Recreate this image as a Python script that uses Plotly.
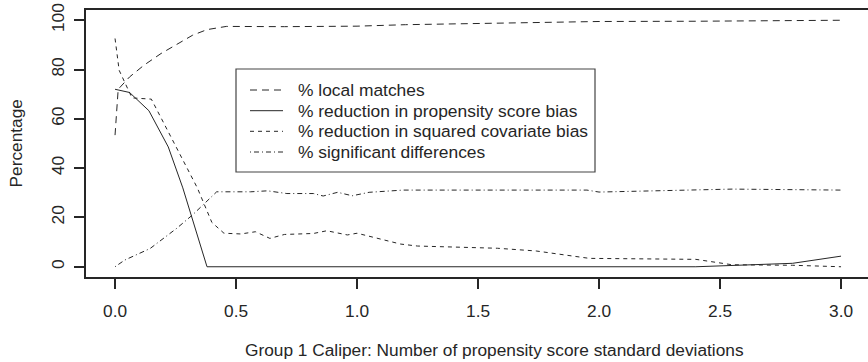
import plotly.graph_objects as go

# Caliper widths (in propensity score SDs) and the percentages at each width
caliper_local = [0, 0.013, 0.06, 0.12, 0.19, 0.26, 0.32, 0.38, 0.46, 0.7, 1.0, 1.2, 1.6, 2.0, 2.4, 3.0]
pct_local = [53.4, 72.0, 77.0, 81.8, 86.5, 90.5, 93.9, 96.2, 97.5, 97.4, 97.6, 98.2, 98.8, 99.5, 99.6, 100.0]

caliper_ps = [0, 0.06, 0.14, 0.22, 0.28, 0.38, 2.4, 2.8, 3.0]
pct_ps = [72.0, 70.7, 63.3, 48.6, 32.0, 0.0, 0.0, 1.4, 4.3]

caliper_cov = [0, 0.017, 0.07, 0.15, 0.34, 0.40, 0.45, 0.52, 0.58, 0.64, 0.70, 0.82,
               0.875, 0.96, 1.0, 1.18, 1.25, 1.58, 1.74, 1.96, 2.4, 2.55, 2.8, 3.0]
pct_cov = [92.6, 79.7, 68.5, 68.0, 32.0, 18.0, 13.6, 13.3, 14.2, 11.5, 13.1, 13.5,
           14.6, 12.9, 13.6, 9.2, 8.4, 7.5, 6.4, 3.4, 3.0, 0.8, 0.6, 0.0]

caliper_sig = [0, 0.04, 0.145, 0.255, 0.32, 0.42, 0.56, 0.63, 0.71, 0.82, 0.86, 0.92,
               0.98, 1.05, 1.19, 1.95, 2.0, 2.46, 2.55, 3.0]
pct_sig = [0, 2.7, 7.4, 15.6, 21.0, 30.4, 30.4, 30.8, 29.7, 29.7, 28.7, 30.2,
           28.8, 30.2, 31.1, 31.1, 30.3, 31.1, 31.5, 31.1]

series_names = [
    "% local matches",
    "% reduction in propensity score bias",
    "% reduction in squared covariate bias",
    "% significant differences",
]
x_ticks = [0.0, 0.5, 1.0, 1.5, 2.0, 2.5, 3.0]
x_ticklabels = ["0.0", "0.5", "1.0", "1.5", "2.0", "2.5", "3.0"]
y_ticks = [0, 20, 40, 60, 80, 100]

W, H = 868, 362
ML, MR, MT, MB = 86, 0, 10, 85
PW, PH = W - ML - MR, H - MT - MB
FONT = "Liberation Sans, Arial, Helvetica, sans-serif"
INK = "#262626"
dashes = ["7px,5px", "solid", "4px,4px", "1px,3px,5px,3px"]

fig = go.Figure()
for (xs, ys), name, dash in zip(
    [(caliper_local, pct_local), (caliper_ps, pct_ps),
     (caliper_cov, pct_cov), (caliper_sig, pct_sig)],
    series_names, dashes,
):
    fig.add_trace(go.Scatter(x=xs, y=ys, mode="lines", name=name,
                             line=dict(color=INK, width=1, dash=dash),
                             showlegend=False))


def px_x(p):
    return (p - ML) / PW


def px_y(p):
    return (MT + PH - p) / PH


# legend box drawn in paper coordinates
shapes = [dict(type="rect", xref="paper", yref="paper",
               x0=px_x(236), x1=px_x(595), y0=px_y(172), y1=px_y(69),
               line=dict(color="#444", width=1.2), fillcolor="white", layer="below")]
annotations = []
rows = [90, 110.7, 131.3, 152]
for py, name, dash in zip(rows, series_names, dashes):
    shapes.append(dict(type="line", xref="paper", yref="paper",
                       x0=px_x(250), x1=px_x(283), y0=px_y(py), y1=px_y(py),
                       line=dict(color=INK, width=1, dash=dash)))
    annotations.append(dict(xref="paper", yref="paper", x=px_x(296), y=px_y(py),
                            text=name, showarrow=False, xanchor="left", yanchor="middle",
                            font=dict(family=FONT, size=17.4, color=INK)))

annotations.append(dict(xref="paper", yref="paper", x=px_x(494), y=px_y(350),
                        text="Group 1 Caliper: Number of propensity score standard deviations",
                        showarrow=False, xanchor="center", yanchor="middle",
                        font=dict(family=FONT, size=17.3, color=INK)))
annotations.append(dict(xref="paper", yref="paper", x=px_x(15), y=px_y(143.5),
                        text="Percentage", textangle=-90,
                        showarrow=False, xanchor="center", yanchor="middle",
                        font=dict(family=FONT, size=17.3, color=INK)))

fig.update_layout(
    width=W, height=H,
    margin=dict(l=ML, r=MR, t=MT, b=MB, pad=0),
    paper_bgcolor="white", plot_bgcolor="white",
    shapes=shapes, annotations=annotations,
    xaxis=dict(range=[-0.12, -0.12 + PW / 242.0], tickvals=x_ticks, ticktext=x_ticklabels,
               ticks="outside", ticklen=10, tickwidth=1.5, tickcolor=INK,
               showline=True, linewidth=2, linecolor=INK, mirror=True,
               showgrid=False, zeroline=False, ticklabelstandoff=7,
               tickfont=dict(family=FONT, size=17.3, color=INK)),
    yaxis=dict(range=[-4.16, 104.16], tickvals=y_ticks, tickangle=-90,
               ticks="outside", ticklen=10, tickwidth=1.5, tickcolor=INK,
               showline=True, linewidth=2, linecolor=INK,
               showgrid=False, zeroline=False, ticklabelstandoff=3,
               tickfont=dict(family=FONT, size=17.3, color=INK)),
)

fig.write_html("out.html")
